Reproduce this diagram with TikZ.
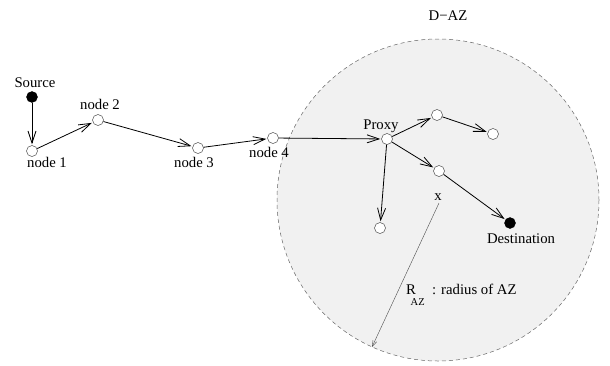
\documentclass[tikz,border=0pt]{standalone}
\usepackage{fontspec}
\setmainfont{Liberation Serif}
\usetikzlibrary{arrows.meta}
\definecolor{zonefill}{HTML}{F1F1F1}
\tikzset{
  pt/.style={circle,draw=black!70,line width=0.5pt,inner sep=0pt,minimum size=11pt,fill=white},
  blk/.style={circle,draw=black,fill=black,inner sep=0pt,minimum size=11pt},
  lbl/.style={font=\fontsize{14.75}{17}\selectfont,inner sep=0pt,anchor=base},
  sublbl/.style={font=\fontsize{10.5}{12}\selectfont,inner sep=0pt,anchor=base west},
  hop/.style={line width=0.8pt,-{Straight Barb[length=12pt,width=8pt,line width=0.8pt]},shorten >=1pt},
  rad/.style={line width=0.4pt,draw=black!70,-{Straight Barb[length=6pt,width=4pt]}}
}
\begin{document}
\begin{tikzpicture}[x=1pt,y=-1pt]
\useasboundingbox (0,0) rectangle (610,365);
% zone
\coordinate (c) at (438,200);
\draw[fill=zonefill,draw=black!60,line width=0.5pt,dash pattern=on 4pt off 3pt] (c) circle[radius=161];
\coordinate (edge) at (372,347);
\node[lbl] (daz) at (448,20) {D−AZ};
% nodes
\node[blk] (src) at (32,97) {};
\node[pt] (n1) at (32,151) {};
\node[pt] (n2) at (98,120) {};
\node[pt] (n3) at (198,148) {};
\node[pt] (n4) at (273,138) {};
\node[pt] (px) at (387,139) {};
\node[pt] (p1) at (437,115) {};
\node[pt] (p2) at (493,134) {};
\node[pt] (p3) at (439,171) {};
\node[pt] (p4) at (380,228) {};
\node[blk] (dst) at (510,223) {};
% labels
\node[lbl] (lsrc) at (35,87) {Source};
\node[lbl] (l1) at (47,167) {node 1};
\node[lbl] (l2) at (100,109) {node 2};
\node[lbl] (l3) at (194,167) {node 3};
\node[lbl] (l4) at (269,157) {node 4};
\node[lbl] (lpx) at (381,129) {Proxy};
\node[lbl] (ldst) at (521,243) {Destination};
\node[lbl] (lx) at (438,200) {x};
\node[lbl,anchor=base west] (lr) at (406,294) {R};
\node[sublbl] (laz) at (410.5,305) {AZ};
\node[lbl,anchor=base west] (lrad) at (432,294) {: radius of AZ};
% connectors
\draw[hop] (src) -- (n1);
\draw[hop] (n1) -- (n2);
\draw[hop] (n2) -- (n3);
\draw[hop] (n3) -- (n4);
\draw[hop] (n4) -- (px);
\draw[hop] (px) -- (p1);
\draw[hop] (p1) -- (p2);
\draw[hop] (px) -- (p3);
\draw[hop] (p3) -- (dst);
\draw[hop] (px) -- (p4);
\draw[rad] (439,203) -- (edge);
\end{tikzpicture}
\end{document}
